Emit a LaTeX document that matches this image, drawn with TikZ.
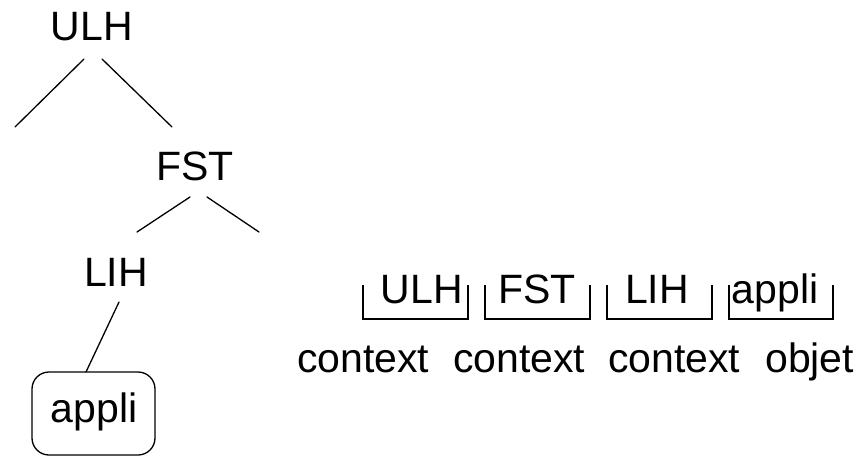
\documentclass[tikz,border=0pt]{standalone}
\usepackage{fontspec}
\setmainfont{Liberation Sans}
\begin{document}
\begin{tikzpicture}[x=1pt,y=-1pt,
  lbl/.style={anchor=base,inner sep=0pt,font=\fontsize{41}{48}\selectfont},
  lblw/.style={anchor=base west,inner sep=0pt,font=\fontsize{41}{48}\selectfont},
  edge/.style={line width=1.3pt,line cap=round},
  brk/.style={line width=1.3pt}]
\useasboundingbox (0,0) rectangle (857,456);
% tree
\node[lbl] (ulh) at (92,40) {ULH};
\node[lbl] (fst) at (195,180) {FST};
\node[lbl] (lih) at (116,286) {LIH};
\draw[edge,rounded corners=17pt] (32,372) rectangle (155,455);
\node[lbl] (app) at (94,422) {appli};
\coordinate (uL) at (84,59);   \coordinate (uLe) at (15,127);
\coordinate (uR) at (102,59);  \coordinate (uRe) at (172,127);
\coordinate (fL) at (190,197); \coordinate (fLe) at (137,232);
\coordinate (fR) at (207,197); \coordinate (fRe) at (259,232);
\coordinate (lB) at (119,302); \coordinate (lBe) at (86,372);
\draw[edge] (uL) -- (uLe);
\draw[edge] (uR) -- (uRe);
\draw[edge] (fL) -- (fLe);
\draw[edge] (fR) -- (fRe);
\draw[edge] (lB) -- (lBe);
% stack
\node[lbl] (s1) at (422,303) {ULH};
\node[lbl] (s2) at (537,303) {FST};
\node[lbl] (s3) at (657,303) {LIH};
\node[lbl] (s4) at (775,303) {appli};
\draw[brk] (363,285) -- (363,319) -- (468,319) -- (468,285);
\draw[brk] (485,285) -- (485,319) -- (590,319) -- (590,285);
\draw[brk] (607,285) -- (607,319) -- (712,319) -- (712,285);
\draw[brk] (729,285) -- (729,319) -- (833,319) -- (833,285);
\node[lblw] (c1) at (297,372) {context};
\node[lblw] (c2) at (453,372) {context};
\node[lblw] (c3) at (608,372) {context};
\node[lblw] (c4) at (765,372) {objet};
\end{tikzpicture}
\end{document}
